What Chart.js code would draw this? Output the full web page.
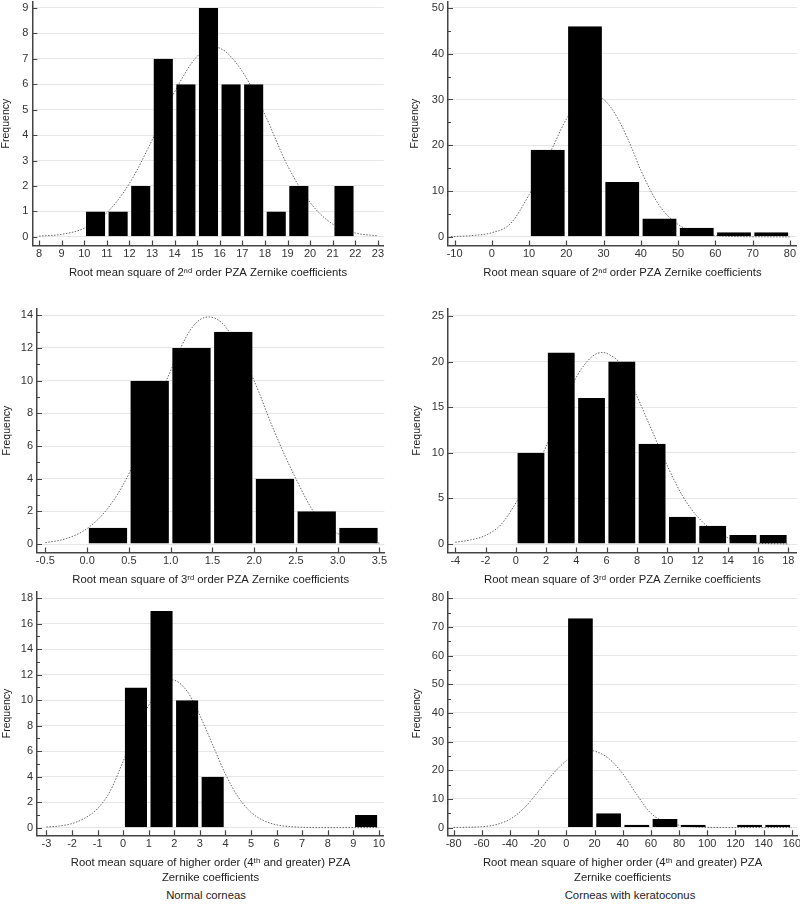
<!DOCTYPE html>
<html>
<head>
<meta charset="utf-8">
<script src="https://cdn.jsdelivr.net/npm/chart.js@4.4.1/dist/chart.umd.min.js"></script>
<style>
  html, body { margin: 0; padding: 0; background: #fff; }
  #page { position: relative; width: 800px; height: 904px; overflow: hidden; background: #fff; }
  .cap { position: absolute; transform: translateX(-50%); white-space: nowrap;
         font-family: 'Liberation Sans', Arial, sans-serif; font-size: 11.3px; line-height: 14px; color: #222; }
</style>
</head>
<body>
<div id="page">
  <div class="cap" style="left:206px; top:888px;">Normal corneas</div>
  <div class="cap" style="left:630px; top:888px;">Corneas with keratoconus</div>
</div>
<script>
// ---------------- DATA ----------------
// Panel 1: normal corneas, 2nd order
const p1BinMid = [10.5, 11.5, 12.5, 13.5, 14.5, 15.5, 16.5, 17.5, 18.5, 19.5, 20.5, 21.5];
const p1Counts = [1, 1, 2, 7, 6, 9, 6, 6, 1, 2, 0, 2];
const p1CurveX = [8, 9, 10, 11, 12, 13, 14, 15, 15.75, 16, 17, 18, 19, 20, 21, 22, 23];
const p1CurveY = [0.03, 0.1, 0.34, 0.95, 2.1, 3.8, 5.7, 7.1, 7.45, 7.42, 6.5, 4.8, 2.8, 1.35, 0.5, 0.15, 0.04];
const p1XTicks = ['8','9','10','11','12','13','14','15','16','17','18','19','20','21','22','23'];
const p1YTicks = ['0','1','2','3','4','5','6','7','8','9'];

// Panel 2: keratoconus, 2nd order
const p2BinMid = [15, 25, 35, 45, 55, 65, 75];
const p2Counts = [19, 46, 12, 4, 2, 1, 1];
const p2CurveX = [-11, -5, 0, 5, 10, 13, 16, 20, 24, 27, 29.4, 32, 35, 37.5, 40, 45, 50, 55, 60, 70, 80];
const p2CurveY = [0.05, 0.3, 0.9, 2.9, 9.2, 14, 19, 25.7, 29.8, 30.9, 30.4, 28.2, 24, 19.5, 14.5, 6.8, 2.7, 0.9, 0.3, 0.02, 0];
const p2XTicks = ['-10','0','10','20','30','40','50','60','70','80'];
const p2YTicks = ['0','10','20','30','40','50'];

// Panel 3: normal corneas, 3rd order
const p3BinMid = [0.25, 0.75, 1.25, 1.75, 2.25, 2.75, 3.25];
const p3Counts = [1, 10, 12, 13, 4, 2, 1];
const p3CurveX = [-0.5, -0.25, 0, 0.25, 0.5, 0.75, 1, 1.25, 1.45, 1.6, 1.75, 2, 2.25, 2.5, 2.75, 3, 3.25, 3.5];
const p3CurveY = [0.08, 0.33, 0.95, 2.2, 4.3, 7.4, 10.6, 13.2, 13.9, 13.6, 12.6, 10, 6.8, 4.0, 1.7, 0.65, 0.22, 0.06];
const p3XTicks = ['-0.5','0.0','0.5','1.0','1.5','2.0','2.5','3.0','3.5'];
const p3YTicks = ['0','2','4','6','8','10','12','14'];

// Panel 4: keratoconus, 3rd order
const p4BinMid = [1, 3, 5, 7, 9, 11, 13, 15, 17];
const p4Counts = [10, 21, 16, 20, 11, 3, 2, 1, 1];
const p4CurveX = [-4, -3, -2, -1, 0, 1, 2, 3, 4, 5, 5.7, 6, 7, 8, 9, 10, 11, 12, 13, 14, 15, 16, 18];
const p4CurveY = [0.2, 0.45, 0.95, 2.1, 4.5, 7.4, 10.7, 14.6, 18.3, 20.5, 21, 20.9, 19.6, 16.2, 12.4, 8.6, 5.3, 3.0, 1.5, 0.7, 0.3, 0.1, 0.01];
const p4XTicks = ['-4','-2','0','2','4','6','8','10','12','14','16','18'];
const p4YTicks = ['0','5','10','15','20','25'];

// Panel 5: normal corneas, higher order
const p5BinMid = [0.5, 1.5, 2.5, 3.5, 4.5, 5.5, 6.5, 7.5, 8.5, 9.5];
const p5Counts = [11, 17, 10, 4, 0, 0, 0, 0, 0, 1];
const p5CurveX = [-3, -2.5, -2, -1.5, -1, -0.5, 0, 0.5, 1, 1.5, 1.9, 2.5, 3, 3.5, 4, 4.5, 5, 5.5, 6, 7, 8, 9, 10];
const p5CurveY = [0.05, 0.13, 0.32, 0.75, 1.5, 2.9, 5.2, 7.5, 9.6, 11.1, 11.6, 10.7, 8.8, 6.5, 4.2, 2.4, 1.2, 0.55, 0.22, 0.03, 0, 0, 0];
const p5XTicks = ['-3','-2','-1','0','1','2','3','4','5','6','7','8','9','10'];
const p5YTicks = ['0','2','4','6','8','10','12','14','16','18'];

// Panel 6: keratoconus, higher order
const p6BinMid = [10, 30, 50, 70, 90, 110, 130, 150];
const p6Counts = [73, 5, 1, 3, 1, 0, 1, 1];
const p6CurveX = [-80, -70, -60, -50, -40, -30, -20, -10, 0, 10, 18, 20, 30, 40, 50, 60, 70, 80, 90, 100, 110, 120, 160];
const p6CurveY = [0.05, 0.12, 0.3, 1.0, 2.9, 6.8, 12.5, 18.5, 23.3, 26.2, 26.8, 26.7, 24.1, 18.8, 11.5, 5.0, 2.0, 0.8, 0.25, 0.08, 0.02, 0, 0];
const p6XTicks = ['-80','-60','-40','-20','0','20','40','60','80','100','120','140','160'];
const p6YTicks = ['0','10','20','30','40','50','60','70','80'];

const title2 = 'Root mean square of 2\u207F\u1D48 order PZA Zernike coefficients';
const title3 = 'Root mean square of 3\u02B3\u1D48 order PZA Zernike coefficients';
const titleH = ['Root mean square of higher order (4\u1D57\u02B0 and greater) PZA', 'Zernike coefficients'];

// ---------------- LAYOUT / STYLE ----------------
const FONT = "'Liberation Sans', Arial, Helvetica, sans-serif";
const panels = [
  { bins: p1BinMid, counts: p1Counts, cx: p1CurveX, cy: p1CurveY, xt: p1XTicks, yt: p1YTicks, title: title2, yw: 32.3,
    area: { l: 32.5, t: 2, r: 385, b: 246 }, xmin: 7.70, xmax: 23.26, ymin: -0.342, ymax: 9.25, minor: false },
  { bins: p2BinMid, counts: p2Counts, cx: p2CurveX, cy: p2CurveY, xt: p2XTicks, yt: p2YTicks, title: title2, yw: 39,
    area: { l: 447.7, t: 2, r: 797, b: 246 }, xmin: -11.77, xmax: 81.88, ymin: -1.9, ymax: 51.38, minor: true },
  { bins: p3BinMid, counts: p3Counts, cx: p3CurveX, cy: p3CurveY, xt: p3XTicks, yt: p3YTicks, title: title3, yw: 36,
    area: { l: 37.3, t: 308.3, r: 385, b: 552.5 }, xmin: -0.60, xmax: 3.56, ymin: -0.52, ymax: 14.41, minor: true },
  { bins: p4BinMid, counts: p4Counts, cx: p4CurveX, cy: p4CurveY, xt: p4XTicks, yt: p4YTicks, title: title3, yw: 37,
    area: { l: 447.7, t: 308.3, r: 797, b: 552.5 }, xmin: -4.48, xmax: 18.57, ymin: -0.93, ymax: 25.81, minor: false },
  { bins: p5BinMid, counts: p5Counts, cx: p5CurveX, cy: p5CurveY, xt: p5XTicks, yt: p5YTicks, title: titleH, yw: 36,
    area: { l: 37.3, t: 591.7, r: 385, b: 835 }, xmin: -3.37, xmax: 10.2, ymin: -0.6, ymax: 18.52, minor: true },
  { bins: p6BinMid, counts: p6Counts, cx: p6CurveX, cy: p6CurveY, xt: p6XTicks, yt: p6YTicks, title: titleH, yw: 37,
    area: { l: 447.7, t: 591.7, r: 797, b: 835 }, xmin: -83.97, xmax: 163.76, ymin: -2.69, ymax: 82.3, minor: true }
];

// inward tick marks (major + optional mid minor ticks), drawn from the library's scales
const inwardTicks = {
  id: 'inwardTicks',
  afterDraw(chart, args, opts) {
    const ctx = chart.ctx, xs = chart.scales.x, ys = chart.scales.y;
    ctx.save();
    ctx.strokeStyle = '#444';
    ctx.lineWidth = 1.2;
    ctx.beginPath();
    xs.ticks.forEach(t => {
      const px = Math.round(xs.getPixelForValue(t.value)) + 0.5;
      ctx.moveTo(px, xs.top); ctx.lineTo(px, xs.top - 5);
    });
    ys.ticks.forEach((t, i) => {
      const py = Math.round(ys.getPixelForValue(t.value)) + 0.5;
      ctx.moveTo(ys.right, py); ctx.lineTo(ys.right + 5, py);
      if (opts.minor && i < ys.ticks.length - 1) {
        const mv = (t.value + ys.ticks[i + 1].value) / 2;
        const pm = Math.round(ys.getPixelForValue(mv)) + 0.5;
        ctx.moveTo(ys.right, pm); ctx.lineTo(ys.right + 3, pm);
      }
    });
    ctx.stroke();
    ctx.restore();
  }
};

function config(p) {
  const bars = p.bins.map((c, i) => ({ x: c, y: p.counts[i] })).filter(d => d.y > 0);
  const curve = p.cx.map((x, i) => ({ x: x, y: p.cy[i] }));
  return {
    type: 'bar',
    data: {
      datasets: [
        { type: 'bar', data: bars, backgroundColor: '#000', borderColor: 'rgba(0,0,0,0)',
          borderWidth: { left: 1.75, right: 1.75, top: 0, bottom: 0 }, borderSkipped: 'start',
          barPercentage: 1, categoryPercentage: 1, inflateAmount: 0, order: 0 },
        { type: 'line', data: curve, borderColor: '#666', borderWidth: 1, borderDash: [1.5, 1.5],
          pointRadius: 0, fill: false, cubicInterpolationMode: 'monotone', order: 1 }
      ]
    },
    options: {
      responsive: false, animation: false, devicePixelRatio: 1,
      layout: { padding: 0 },
      plugins: { legend: { display: false }, tooltip: { enabled: false }, inwardTicks: { minor: p.minor } },
      scales: {
        x: {
          type: 'linear', min: p.xmin, max: p.xmax, offset: false,
          afterBuildTicks: s => { s.ticks = p.xt.map(l => ({ value: Number(l) })); },
          ticks: { autoSkip: false, maxRotation: 0, minRotation: 0, padding: 2, color: '#333',
                   font: { family: FONT, size: 11 }, callback: (v, i) => p.xt[i] },
          grid: { display: false, drawTicks: false, offset: false },
          border: { display: true, color: '#444', width: 1.5 },
          title: { display: true, text: p.title, color: '#222',
                   font: { family: FONT, size: 11.3, lineHeight: 1.35 }, padding: { top: 3, bottom: 0 } }
        },
        y: {
          type: 'linear', min: p.ymin, max: p.ymax,
          afterBuildTicks: s => { s.ticks = p.yt.map(l => ({ value: Number(l) })); },
          afterFit: s => { s.width = p.yw; },
          ticks: { padding: 4, color: '#333', font: { family: FONT, size: 11 }, callback: (v, i) => p.yt[i] },
          grid: { color: '#e6e6e6', lineWidth: 1, drawTicks: false },
          border: { display: true, color: '#444', width: 1.5 },
          title: { display: true, text: 'Frequency', color: '#222',
                   font: { family: FONT, size: 10.5 }, padding: { top: 0, bottom: 4 } }
        }
      }
    },
    plugins: [inwardTicks]
  };
}

function create(p, W, H) {
  const wrap = document.createElement('div');
  wrap.style.cssText = 'position:absolute;left:0;top:0;';
  const cv = document.createElement('canvas');
  cv.width = W; cv.height = H;
  cv.style.width = W + 'px'; cv.style.height = H + 'px';
  wrap.appendChild(cv);
  document.getElementById('page').appendChild(wrap);
  const chart = new Chart(cv, config(p));
  return { chart, wrap };
}

function makePanel(p) {
  const tw = p.area.r - p.area.l, th = p.area.b - p.area.t;
  let W = Math.round(tw + 70), H = Math.round(th + 60);
  let made = create(p, W, H);
  let ca = made.chart.chartArea;
  W += Math.round(tw - (ca.right - ca.left));
  H += Math.round(th - (ca.bottom - ca.top));
  made.chart.destroy(); made.wrap.remove();
  made = create(p, W, H);
  ca = made.chart.chartArea;
  made.wrap.style.left = Math.round(p.area.l - ca.left) + 'px';
  made.wrap.style.top = Math.round(p.area.t - ca.top) + 'px';
}

panels.forEach(makePanel);
</script>
</body>
</html>
